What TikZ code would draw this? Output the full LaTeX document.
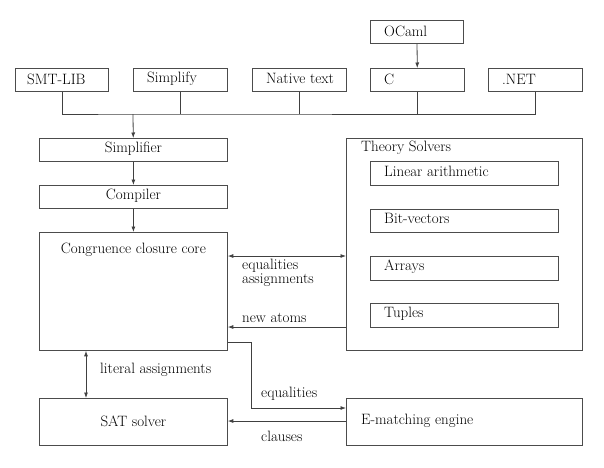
\documentclass[tikz,border=0pt]{standalone}
\usetikzlibrary{arrows.meta,calc}
\begin{document}
\begin{tikzpicture}[x=1pt,y=-1pt,
  every node/.style={font=\fontsize{15}{18}\selectfont},
  box/.style={draw=black!70, line width=0.8pt, anchor=north west, inner sep=0pt},
  txt/.style={inner sep=0pt, anchor=west},
  ln/.style={draw=black!75, line width=0.8pt},
  arr/.style={ln, -{Latex[length=5.5pt,width=4pt]}},
  darr/.style={ln, {Latex[length=5.5pt,width=4pt]}-{Latex[length=5.5pt,width=4pt]}}]
\useasboundingbox (0,0) rectangle (604,467);
% top row
\node[box, minimum width=93pt, minimum height=23pt] (ocaml) at (370,20) {};
\node[txt] (ocamlT) at ([xshift=14pt,yshift=1pt]ocaml.west) {OCaml};
\node[box, minimum width=93pt, minimum height=23pt] (smt) at (15,68) {};
\node[txt] (smtT) at ([xshift=12pt,yshift=1pt]smt.west) {SMT-LIB};
\node[box, minimum width=94pt, minimum height=23pt] (simp) at (133,68) {};
\node[txt] (simpT) at ([xshift=14pt,yshift=1pt]simp.west) {Simplify};
\node[box, minimum width=94pt, minimum height=23pt] (nat) at (252,68) {};
\node[txt] (natT) at ([xshift=14pt,yshift=1pt]nat.west) {Native text};
\node[box, minimum width=94pt, minimum height=23pt] (c) at (370,68) {};
\node[txt] (cT) at ([xshift=14pt,yshift=1pt]c.west) {C};
\node[box, minimum width=94pt, minimum height=23pt] (net) at (488,68) {};
\node[txt] (netT) at ([xshift=14pt,yshift=1pt]net.west) {.NET};
\draw[arr] (ocaml) -- (c);
% bus
\coordinate (bus) at (133,114);
\draw[ln] (smt.south) |- (bus) -| (net.south);
\draw[ln] (simp.south) -- (simp.south |- bus);
\draw[ln] (nat.south) -- (nat.south |- bus);
\draw[ln] (c.south) -- (c.south |- bus);
% left column
\node[box, minimum width=188pt, minimum height=23pt] (simpl) at (39,138) {};
\node[inner sep=0pt] (simplT) at ([yshift=1pt]simpl.center) {Simplifier};
\node[box, minimum width=188pt, minimum height=23pt] (comp) at (39,185) {};
\node[inner sep=0pt] (compT) at ([yshift=1pt]comp.center) {Compiler};
\node[box, minimum width=188pt, minimum height=118pt] (ccc) at (39,232) {};
\node[inner sep=0pt] (cccT) at ([yshift=-18pt]ccc.north) {Congruence closure core};
\node[box, minimum width=188pt, minimum height=47pt] (sat) at (39,398) {};
\node[inner sep=0pt] (satT) at ([yshift=1pt]sat.center) {SAT solver};
\draw[arr] (bus) -- (simpl);
\draw[arr] (simpl) -- (comp);
\draw[arr] (comp) -- (ccc);
% theory solvers
\node[box, minimum width=236pt, minimum height=212pt] (ts) at (346,138) {};
\node[txt] (tsT) at ([xshift=15pt,yshift=-10pt]ts.north west) {Theory Solvers};
\node[box, minimum width=188pt, minimum height=24pt] (la) at (370,161) {};
\node[txt] (laT) at ([xshift=14pt,yshift=2pt]la.west) {Linear arithmetic};
\node[box, minimum width=188pt, minimum height=23pt] (bv) at (370,209) {};
\node[txt] (bvT) at ([xshift=14pt,yshift=2pt]bv.west) {Bit-vectors};
\node[box, minimum width=188pt, minimum height=24pt] (ar) at (370,256) {};
\node[txt] (arT) at ([xshift=14pt,yshift=2pt]ar.west) {Arrays};
\node[box, minimum width=188pt, minimum height=24pt] (tu) at (370,303) {};
\node[txt] (tuT) at ([xshift=14pt,yshift=2pt]tu.west) {Tuples};
% e-matching
\node[box, minimum width=236pt, minimum height=47pt] (em) at (346,398) {};
\node[txt] (emT) at ([xshift=15pt,yshift=1pt]em.west) {E-matching engine};
% connectors
\draw[darr] (ccc.east |- 0,256) -- (ts.west |- 0,256);
\node[txt] (eqT) at (242,266) {equalities};
\node[txt] (asT) at (242,280) {assignments};
\draw[arr] (ts.west |- 0,327) -- (ccc.east |- 0,327);
\node[txt] (naT) at (242,318) {new atoms};
\coordinate (bend) at (251,342);
\draw[arr] (ccc.east |- bend) -- (bend) |- (em.west |- 0,408);
\node[txt] (eq2T) at (261,394) {equalities};
\draw[arr] (em.west |- 0,421) -- (sat.east |- 0,421);
\node[txt] (clT) at (261,436) {clauses};
\draw[darr] (ccc.south -| 86,0) -- (sat.north -| 86,0);
\node[txt] (litT) at (100,370) {literal assignments};
\end{tikzpicture}
\end{document}
